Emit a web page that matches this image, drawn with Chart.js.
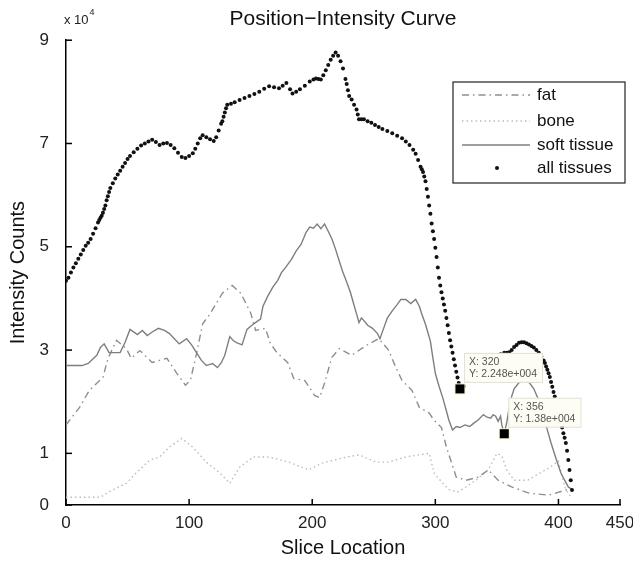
<!DOCTYPE html>
<html>
<head>
<meta charset="utf-8">
<script src="https://cdn.jsdelivr.net/npm/chart.js@4.4.1/dist/chart.umd.min.js"></script>
<style>
  html, body { margin: 0; padding: 0; background: #fff; }
  canvas { display: block; }
</style>
</head>
<body>
<canvas id="chart" width="633" height="562"></canvas>
<script>
// Все значения интенсивности в единицах 10^4 отсчётов
var xTicks = [0, 100, 200, 300, 400, 450];
var yTicks = [0, 1, 3, 5, 7, 9];

// all tissues (точки)
var allSlices = [0, 2, 4, 6, 8, 10, 12, 14, 16, 18,
  20, 22, 24, 26, 27, 28, 29, 30, 31, 32,
  33, 34, 35, 36, 38, 40, 42, 44, 46, 48,
  50, 52, 55, 58, 61, 64, 67, 70, 73, 76,
  79, 82, 85, 88, 91, 94, 97, 100, 103, 105,
  107, 109, 111, 114, 117, 120, 122, 124, 126, 127,
  128, 129, 130, 131, 134, 137, 141, 145, 149, 153,
  157, 161, 165, 169, 173, 176, 179, 182, 184, 187,
  190, 194, 198, 201, 203, 205, 207, 209, 211, 213,
  215, 217, 219, 221, 223, 225, 227, 228, 229, 230,
  232, 234, 236, 237, 238, 240, 242, 245, 248, 251,
  254, 257, 261, 265, 269, 273, 276, 279, 282, 284,
  286, 288, 289, 290, 291, 292, 293, 294, 295, 296,
  297, 298, 299, 300, 301, 302, 303, 304, 305, 306,
  307, 308, 309, 310, 311, 312, 313, 314, 315, 316,
  317, 318, 319, 320, 323, 326, 329, 332, 335, 338,
  341, 344, 347, 350, 353, 356, 358, 360, 362, 364,
  366, 368, 370, 372, 374, 376, 378, 380, 382, 384,
  386, 388, 389, 390, 391, 392, 393, 394, 395, 396,
  397, 398, 399, 400, 401, 402, 403, 404, 405, 406,
  407, 408, 409, 410, 411];
var allTissues = [4.34, 4.4, 4.5, 4.6, 4.68, 4.77, 4.85, 4.94, 5.02, 5.08,
  5.15, 5.25, 5.36, 5.47, 5.52, 5.56, 5.6, 5.66, 5.73, 5.8,
  5.9, 5.98, 6.06, 6.14, 6.23, 6.32, 6.4, 6.47, 6.55, 6.62,
  6.7, 6.76, 6.83, 6.9, 6.96, 7.0, 7.04, 7.07, 7.03, 6.97,
  7.0, 7.01, 6.97, 6.91, 6.82, 6.74, 6.72, 6.76, 6.81, 6.9,
  7.0, 7.1, 7.16, 7.12, 7.08, 7.05, 7.12, 7.25, 7.38, 7.43,
  7.52, 7.6, 7.68, 7.75, 7.77, 7.8, 7.84, 7.88, 7.92, 7.96,
  8.0, 8.06, 8.11, 8.09, 8.07, 8.12, 8.17, 8.05, 7.97, 8.0,
  8.05, 8.12, 8.2, 8.24, 8.26, 8.25, 8.24, 8.32, 8.42, 8.52,
  8.62, 8.7, 8.76, 8.7, 8.59, 8.45, 8.25, 8.15, 8.03, 7.92,
  7.85, 7.75, 7.66, 7.56, 7.47, 7.47, 7.47, 7.43, 7.4, 7.36,
  7.32, 7.28, 7.24, 7.2, 7.15, 7.1, 7.04, 6.97, 6.88, 6.8,
  6.68, 6.55, 6.5, 6.45, 6.36, 6.27, 6.12, 5.97, 5.8, 5.64,
  5.45, 5.3, 5.15, 4.98, 4.8, 4.6, 4.4, 4.25, 4.12, 4.0,
  3.88, 3.76, 3.62, 3.48, 3.33, 3.19, 3.07, 2.95, 2.82, 2.7,
  2.58, 2.47, 2.36, 2.248, 2.3, 2.42, 2.52, 2.6, 2.68, 2.75,
  2.8, 2.85, 2.88, 2.9, 2.92, 2.95, 2.95, 2.96, 3.0, 3.06,
  3.1, 3.14, 3.15, 3.15, 3.13, 3.11, 3.08, 3.05, 3.0, 2.95,
  2.88, 2.8, 2.75, 2.68, 2.62, 2.55, 2.48, 2.38, 2.29, 2.19,
  2.1, 2.0, 1.9, 1.8, 1.7, 1.6, 1.5, 1.39, 1.3, 1.2,
  1.05, 0.87, 0.68, 0.48, 0.29];

// soft tissue (сплошная)
var softSlices = [0, 13, 18, 25, 28, 31, 35, 44, 48, 52, 58, 62, 66, 70, 75, 80, 84, 88, 92, 98,
  102, 106, 110, 114, 119, 123, 126, 129, 133, 136, 139, 143, 147, 151, 155, 158, 160, 164, 168, 172,
  175, 179, 183, 187, 191, 195, 198, 201, 204, 207, 210, 213, 216, 219, 222, 225, 228, 231, 233, 236,
  238, 240, 242, 245, 249, 253, 255, 258, 261, 265, 269, 272, 276, 280, 284, 287, 289, 292, 296, 298,
  300, 303, 306, 309, 311, 314, 317, 320, 324, 328, 331, 335, 339, 342, 345, 347, 349, 351, 353, 354,
  356, 358, 361, 364, 368, 372, 376, 380, 384, 388, 391, 394, 398, 402, 405, 408, 411];
var softTissue = [2.7, 2.7, 2.74, 2.9, 3.05, 3.12, 2.95, 2.95, 3.15, 3.4, 3.3, 3.38, 3.28, 3.35, 3.42, 3.38, 3.32, 3.22, 3.12, 3.22,
  3.1, 2.95, 2.8, 2.7, 2.74, 2.66, 2.75, 2.9, 3.26, 3.18, 3.14, 3.1, 3.4, 3.48, 3.55, 3.6, 3.85, 4.05, 4.22, 4.35,
  4.5, 4.62, 4.75, 4.92, 5.05, 5.28, 5.38, 5.36, 5.44, 5.35, 5.44, 5.3, 5.15, 4.95, 4.72, 4.5, 4.32, 4.12, 3.95, 3.7,
  3.53, 3.62, 3.57, 3.48, 3.42, 3.32, 3.22, 3.42, 3.62, 3.76, 3.88, 3.98, 3.98, 3.9, 3.98, 3.85, 3.7, 3.5, 3.17, 2.85,
  2.55, 2.3, 2.08, 1.82, 1.64, 1.45, 1.52, 1.5, 1.55, 1.52, 1.58, 1.65, 1.75, 1.7, 1.68, 1.75, 1.72, 1.62, 1.72, 1.55,
  1.38, 1.6, 2.03, 2.25, 2.37, 2.42, 2.38, 2.25, 2.03, 1.72, 1.45, 1.2, 0.9, 0.62, 0.48, 0.35, 0.3];

// fat (штрих-пунктир)
var fatSlices = [0, 11, 19, 30, 34, 41, 49, 53, 60, 70, 82, 90, 97, 101, 106, 111, 117, 127, 135, 142,
  150, 154, 162, 166, 171, 180, 185, 194, 202, 206, 210, 216, 222, 232, 244, 254, 262, 268, 273, 281,
  287, 295, 299, 305, 309, 317, 325, 335, 343, 351, 362, 376, 392, 406, 411];
var fat = [1.55, 1.89, 2.22, 2.47, 2.83, 3.19, 3.03, 2.84, 2.99, 2.76, 2.84, 2.55, 2.32, 2.41, 2.93, 3.51, 3.7, 4.1, 4.25, 4.1,
  3.72, 3.38, 3.42, 3.13, 2.96, 2.76, 2.45, 2.41, 2.12, 2.08, 2.36, 2.86, 3.03, 2.9, 3.09, 3.22, 3.0, 2.66, 2.41, 2.22,
  1.89, 1.78, 1.64, 1.5, 1.12, 0.54, 0.48, 0.54, 0.68, 0.48, 0.35, 0.23, 0.19, 0.29, 0.3];

// bone (пунктир)
var boneSlices = [0, 28, 36, 49, 57, 68, 76, 84, 94, 103, 114, 125, 133, 141, 152, 165, 181, 197, 208, 228,
  238, 252, 262, 276, 295, 299, 306, 311, 318, 325, 333, 343, 350, 354, 358, 364, 375, 385, 393, 400, 405, 410];
var bone = [0.15, 0.15, 0.27, 0.42, 0.62, 0.87, 0.93, 1.12, 1.29, 1.12, 0.83, 0.62, 0.42, 0.73, 0.93, 0.93, 0.83, 0.68, 0.81, 0.93,
  0.97, 0.83, 0.83, 0.93, 1.0, 0.62, 0.42, 0.3, 0.25, 0.35, 0.48, 0.68, 1.0, 0.95, 0.68, 0.48, 0.48, 0.62, 0.73, 0.85, 0.35, 0.15];

// подсказки (data tips)
var tipSlices = [320, 356];
var tipValues = [2.248, 1.38];
var tipTexts = [["X: 320", "Y: 2.248e+004"], ["X: 356", "Y: 1.38e+004"]];

var FONT = '"Liberation Sans", Arial, Helvetica, sans-serif';
Chart.defaults.font.family = FONT;
Chart.defaults.color = "#222";

function pairs(xs, ys) {
  return xs.map(function (x, i) { return { x: x, y: ys[i] }; });
}

var styles = {
  fat: { color: "#8e8e8e", width: 1.4, dash: [7, 4, 1.5, 4] },
  bone: { color: "#bcbcbc", width: 1.4, dash: [1.5, 3] },
  soft: { color: "#7e7e7e", width: 1.4, dash: [] }
};

var overlay = {
  id: "overlay",
  afterDraw: function (chart) {
    var ctx = chart.ctx;
    var xs = chart.scales.x;
    var ys = chart.scales.y;
    var area = chart.chartArea;
    ctx.save();

    // внутренние засечки осей
    ctx.strokeStyle = "#000";
    ctx.lineWidth = 1.5;
    xTicks.forEach(function (t) {
      var px = xs.getPixelForValue(t);
      ctx.beginPath();
      ctx.moveTo(px, area.bottom);
      ctx.lineTo(px, area.bottom - 6);
      ctx.stroke();
    });
    yTicks.forEach(function (t) {
      var py = ys.getPixelForValue(t);
      ctx.beginPath();
      ctx.moveTo(area.left, py);
      ctx.lineTo(area.left + 6, py);
      ctx.stroke();
    });

    // множитель x 10^4
    ctx.fillStyle = "#222";
    ctx.textAlign = "left";
    ctx.textBaseline = "alphabetic";
    ctx.font = "13px " + FONT;
    ctx.fillText("x 10", 64, 24);
    var w = ctx.measureText("x 10").width;
    ctx.font = "9px " + FONT;
    ctx.fillText("4", 64 + w + 1, 15);

    // легенда
    var lx = 453, ly = 82, lw = 172, lh = 101;
    ctx.fillStyle = "#fff";
    ctx.fillRect(lx, ly, lw, lh);
    ctx.strokeStyle = "#222";
    ctx.lineWidth = 1.2;
    ctx.strokeRect(lx, ly, lw, lh);
    var rows = [
      { label: "fat", st: styles.fat, y: 95 },
      { label: "bone", st: styles.bone, y: 121 },
      { label: "soft tissue", st: styles.soft, y: 145 },
      { label: "all tissues", st: null, y: 168 }
    ];
    rows.forEach(function (r) {
      if (r.st) {
        ctx.strokeStyle = r.st.color;
        ctx.lineWidth = r.st.width;
        ctx.setLineDash(r.st.dash);
        ctx.beginPath();
        ctx.moveTo(462, r.y);
        ctx.lineTo(530, r.y);
        ctx.stroke();
        ctx.setLineDash([]);
      } else {
        ctx.fillStyle = "#111";
        ctx.beginPath();
        ctx.arc(497, r.y, 2, 0, Math.PI * 2);
        ctx.fill();
      }
      ctx.fillStyle = "#111";
      ctx.font = "17px " + FONT;
      ctx.textBaseline = "middle";
      ctx.fillText(r.label, 537, r.y);
    });

    // подсказки
    tipSlices.forEach(function (s, i) {
      var px = xs.getPixelForValue(s);
      var py = ys.getPixelForValue(tipValues[i]);
      ctx.font = "10.5px " + FONT;
      var tw = Math.max(ctx.measureText(tipTexts[i][0]).width, ctx.measureText(tipTexts[i][1]).width);
      var bx = px + 4, by = py - 36, bw = tw + 10, bh = 29;
      ctx.fillStyle = "#fdfdf3";
      ctx.fillRect(bx, by, bw, bh);
      ctx.strokeStyle = "#e2e2d2";
      ctx.lineWidth = 1;
      ctx.strokeRect(bx + 0.5, by + 0.5, bw, bh);
      ctx.fillStyle = "#555";
      ctx.textBaseline = "middle";
      ctx.fillText(tipTexts[i][0], bx + 5, by + 9);
      ctx.fillText(tipTexts[i][1], bx + 5, by + 21);
      ctx.fillStyle = "#f4f0c8";
      ctx.fillRect(px - 5.5, py - 5.5, 11, 11);
      ctx.fillStyle = "#000";
      ctx.fillRect(px - 4.5, py - 4.5, 9, 9);
    });

    ctx.restore();
  }
};

var ctx = document.getElementById("chart").getContext("2d");
var chart = new Chart(ctx, {
  type: "scatter",
  data: {
    datasets: [
      {
        label: "all tissues",
        data: pairs(allSlices, allTissues),
        showLine: false,
        pointRadius: 2,
        pointBackgroundColor: "#111",
        pointBorderWidth: 0,
        order: 0
      },
      {
        label: "soft tissue",
        data: pairs(softSlices, softTissue),
        showLine: true,
        borderColor: styles.soft.color,
        borderWidth: styles.soft.width,
        pointRadius: 0,
        order: 1
      },
      {
        label: "fat",
        data: pairs(fatSlices, fat),
        showLine: true,
        borderColor: styles.fat.color,
        borderWidth: styles.fat.width,
        borderDash: styles.fat.dash,
        pointRadius: 0,
        order: 2
      },
      {
        label: "bone",
        data: pairs(boneSlices, bone),
        showLine: true,
        borderColor: styles.bone.color,
        borderWidth: styles.bone.width,
        borderDash: styles.bone.dash,
        pointRadius: 0,
        order: 3
      }
    ]
  },
  options: {
    responsive: false,
    animation: false,
    layout: { padding: { left: 0, right: 13, top: 0, bottom: 0 } },
    plugins: {
      legend: { display: false },
      tooltip: { enabled: false },
      title: {
        display: true,
        fullSize: false,
        text: "Position\u2212Intensity Curve",
        color: "#111",
        font: { size: 21, weight: "normal" },
        padding: { top: 7, bottom: 8 }
      }
    },
    scales: {
      x: {
        type: "linear",
        min: 0,
        max: 450,
        grid: { display: false, drawTicks: false },
        border: { display: true, color: "#000", width: 1.5 },
        ticks: { font: { size: 17 }, color: "#222", padding: 8, maxRotation: 0 },
        afterBuildTicks: function (scale) {
          scale.ticks = xTicks.map(function (v) { return { value: v }; });
        },
        afterFit: function (scale) {
          scale.height = 57;
          scale.paddingLeft = 0;
          scale.paddingRight = 0;
        },
        title: {
          display: true,
          text: "Slice Location",
          color: "#111",
          font: { size: 20 },
          padding: { top: 0, bottom: 2 }
        }
      },
      y: {
        type: "linear",
        min: 0,
        max: 9,
        grid: { display: false, drawTicks: false },
        border: { display: true, color: "#000", width: 1.5 },
        ticks: { font: { size: 17 }, color: "#222", padding: 17 },
        afterBuildTicks: function (scale) {
          scale.ticks = yTicks.map(function (v) { return { value: v }; });
        },
        afterFit: function (scale) {
          scale.width = 66;
          scale.paddingTop = 0;
          scale.paddingBottom = 0;
        },
        title: {
          display: true,
          text: "Intensity Counts",
          color: "#111",
          font: { size: 20 },
          padding: { top: 6, bottom: 0 }
        }
      }
    }
  },
  plugins: [overlay]
});
</script>
</body>
</html>
